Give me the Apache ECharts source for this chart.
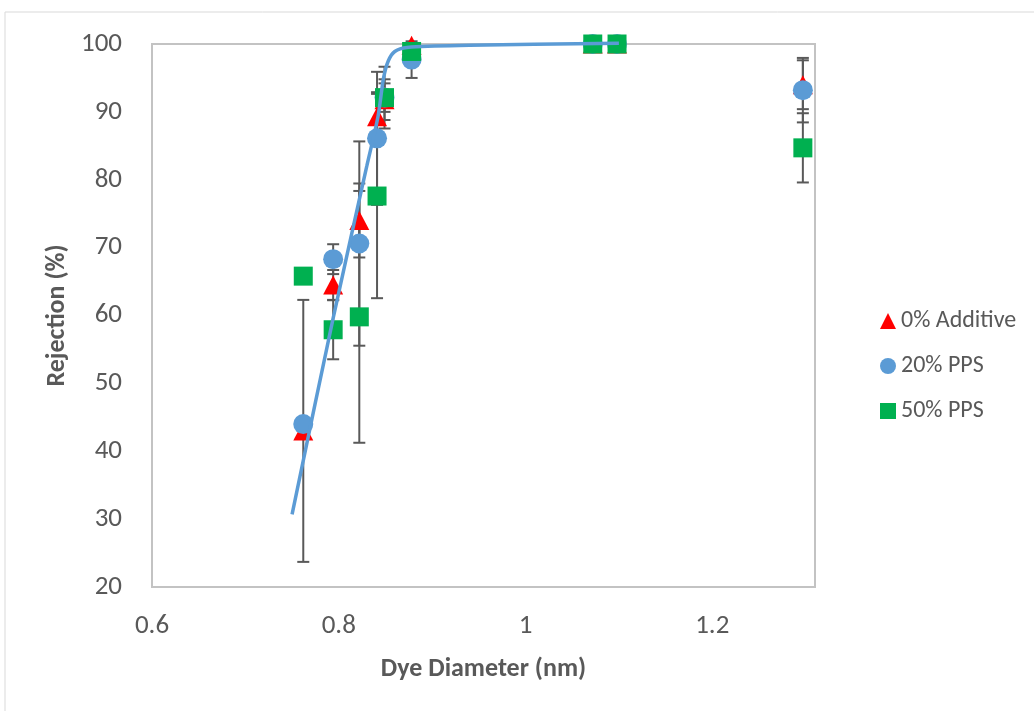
<!DOCTYPE html>
<html>
<head>
<meta charset="utf-8">
<script src="https://cdn.jsdelivr.net/npm/echarts@6/dist/echarts.min.js"></script>
<style>
  html, body { margin: 0; padding: 0; background: #fff; }
  #main { width: 1034px; height: 711px; }
</style>
</head>
<body>
<div id="main"></div>
<script>
  // dye diameters (nm)
  var dyeX = [0.762, 0.794, 0.822, 0.841, 0.849, 0.878, 1.072, 1.098, 1.297];

  // rejection (%) and error (+/-) per membrane
  var additive0 = [43, 64.5, 74, 89.3, 91.8, 99.8, 100, 100, 94];
  var additive0Err = [19.3, 2.2, 5.45, 3.6, 3, 0, 0, 0, 3.6];

  var pps20 = [44, 68.3, 70.6, 86.1, 92.1, 97.7, 100, 100, 93.2];
  var pps20Err = [0, 2.2, 15.05, 9.8, 2.1, 2.7, 0, 0, 4.75];

  var pps50 = [65.8, 57.9, 59.8, 77.6, 92.1, 98.9, 100, 100, 84.7];
  var pps50Err = [0, 4.35, 18.55, 15.05, 4.55, 0, 0, 0, 5.1];

  // fitted curve
  var fitX = [0.750, 0.794, 0.830, 0.842, 0.848, 0.853, 0.860, 0.873, 0.940, 1.100];
  var fitY = [30.7, 59.6, 82, 89.3, 95, 97.5, 98.9, 99.5, 99.8, 100.1];

  var xTicks = [0.6, 0.8, 1, 1.2];

  var font = 'Carlito, "Liberation Sans Narrow", "Open Sans", sans-serif';
  var grey = '#595959';

  function pairs(xs, ys) {
    var out = [];
    for (var i = 0; i < xs.length; i++) out.push([xs[i], ys[i]]);
    return out;
  }
  function errData(xs, ys, es) {
    var out = [];
    for (var i = 0; i < xs.length; i++) {
      if (es[i] > 0) out.push([xs[i], ys[i], es[i]]);
    }
    return out;
  }

  function renderErr(params, api) {
    var x = api.value(0), y = api.value(1), e = api.value(2);
    var top = api.coord([x, y + e]);
    var bot = api.coord([x, y - e]);
    var w = 6;
    var st = { stroke: grey, lineWidth: 2 };
    return {
      type: 'group',
      children: [
        { type: 'line', shape: { x1: top[0], y1: top[1], x2: bot[0], y2: bot[1] }, style: st },
        { type: 'line', shape: { x1: top[0] - w, y1: top[1], x2: top[0] + w, y2: top[1] }, style: st },
        { type: 'line', shape: { x1: bot[0] - w, y1: bot[1], x2: bot[0] + w, y2: bot[1] }, style: st }
      ]
    };
  }

  function errSeries(xs, ys, es) {
    return {
      type: 'custom',
      renderItem: renderErr,
      data: errData(xs, ys, es),
      encode: { x: 0, y: 1 },
      z: 1,
      silent: true,
      clip: false
    };
  }

  var myChart = echarts.init(document.getElementById('main'));
  var option = {
    backgroundColor: '#fff',
    animation: false,
    graphic: [{
      type: 'rect',
      shape: { x: 5, y: 12, width: 1040, height: 720 },
      style: { fill: 'none', stroke: '#d9d9d9', lineWidth: 1 },
      silent: true
    }],
    grid: {
      left: 152, right: 219, top: 44, bottom: 124,
      show: true,
      borderColor: '#c3c3c3',
      borderWidth: 2
    },
    legend: {
      orient: 'vertical',
      left: 875,
      top: 304,
      itemGap: 21,
      itemWidth: 16,
      itemHeight: 16,
      textStyle: { fontFamily: font, fontSize: 24, color: grey },
      data: [
        { name: '0% Additive', icon: 'triangle' },
        { name: '20% PPS', icon: 'circle' },
        { name: '50% PPS', icon: 'rect' }
      ]
    },
    xAxis: {
      type: 'value',
      min: 0.6,
      max: 1.31,
      interval: 0.2,
      name: 'Dye Diameter (nm)',
      nameLocation: 'middle',
      nameGap: 69,
      nameTextStyle: { fontFamily: font, fontSize: 26, fontWeight: 'bold', color: grey },
      axisLine: { show: false },
      axisTick: { show: false },
      splitLine: { show: false },
      axisLabel: {
        fontFamily: font, fontSize: 27, color: grey, margin: 26,
        showMaxLabel: false,
        formatter: function (v) {
          for (var i = 0; i < xTicks.length; i++) {
            if (Math.abs(xTicks[i] - v) < 1e-6) return String(xTicks[i]);
          }
          return '';
        }
      }
    },
    yAxis: {
      type: 'value',
      min: 20,
      max: 100,
      interval: 10,
      name: 'Rejection (%)',
      nameLocation: 'middle',
      nameGap: 79,
      nameTextStyle: { fontFamily: font, fontSize: 26, fontWeight: 'bold', color: grey },
      axisLine: { show: false },
      axisTick: { show: false },
      splitLine: { show: false },
      axisLabel: { fontFamily: font, fontSize: 27, color: grey, margin: 30 }
    },
    series: [
      errSeries(dyeX, additive0, additive0Err),
      errSeries(dyeX, pps20, pps20Err),
      errSeries(dyeX, pps50, pps50Err),
      {
        name: '0% Additive',
        type: 'scatter',
        symbol: 'triangle',
        symbolSize: [20, 19],
        itemStyle: { color: '#ff0000', opacity: 1 },
        data: pairs(dyeX, additive0),
        z: 2,
        clip: false
      },
      {
        name: '20% PPS',
        type: 'scatter',
        symbol: 'circle',
        symbolSize: 20,
        itemStyle: { color: '#5b9bd5', opacity: 1 },
        data: pairs(dyeX, pps20),
        z: 3,
        clip: false
      },
      {
        name: '50% PPS',
        type: 'scatter',
        symbol: 'rect',
        symbolSize: 19,
        itemStyle: { color: '#00b050', opacity: 1 },
        data: pairs(dyeX, pps50),
        z: 4,
        clip: false
      },
      {
        name: 'fit',
        type: 'line',
        smooth: 0.3,
        showSymbol: false,
        symbol: 'none',
        lineStyle: { color: '#5b9bd5', width: 3.5 },
        data: pairs(fitX, fitY),
        z: 5,
        clip: false,
        silent: true
      }
    ]
  };
  myChart.setOption(option);
</script>
</body>
</html>
